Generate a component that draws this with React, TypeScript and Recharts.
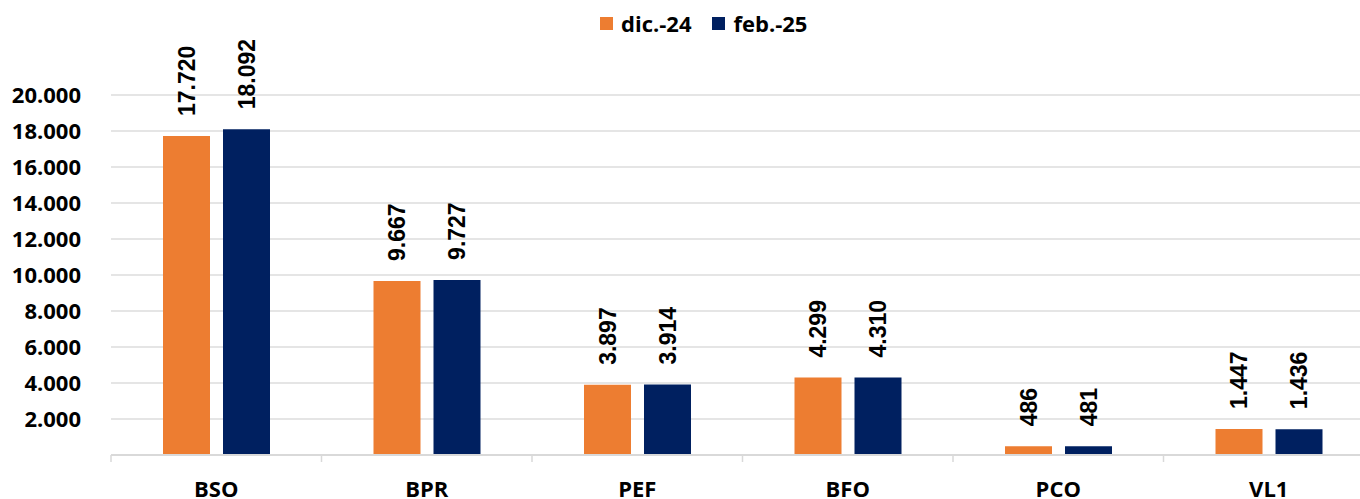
import { BarChart, Bar, XAxis, YAxis, CartesianGrid, LabelList } from "recharts";

const categories = ["BSO", "BPR", "PEF", "BFO", "PCO", "VL1"];
const dic24 = [17720, 9667, 3897, 4299, 486, 1447];
const feb25 = [18092, 9727, 3914, 4310, 481, 1436];
const yTicks = [2000, 4000, 6000, 8000, 10000, 12000, 14000, 16000, 18000, 20000];

const ORANGE = "#ED7D31";
const NAVY = "#002060";
const AXIS = "#d9d9d9";
const FONT = "'Open Sans', 'Noto Sans', sans-serif";
const TICK_SIZE = 8;
const TICK_MARGIN = 18;

const data = categories.map((name, i) => ({ name, dic: dic24[i], feb: feb25[i] }));

// separador de miles con punto
const fmt = (v: number) => String(v).replace(/\B(?=(\d{3})+(?!\d))/g, ".");

const renderLabel = (props: any) => {
  const { x, y, width, value } = props;
  const cx = Number(x) + Number(width) / 2;
  const cy = Number(y) - 20;
  return (
    <text
      x={cx}
      y={cy}
      transform={`rotate(-90, ${cx}, ${cy})`}
      dy="0.36em"
      textAnchor="start"
      fill="#000"
      fontFamily="'Liberation Sans', Arial, sans-serif"
      fontWeight={700}
      fontSize={23}
    >
      {fmt(value)}
    </text>
  );
};

// etiqueta de categoría + marcas en los bordes de cada categoría
const CategoryTick = (props: any) => {
  const { x, y, payload, index } = props;
  const half = payload?.offset ?? 0;
  const axisY = y - TICK_SIZE - TICK_MARGIN;
  const left = x - half;
  const right = x + half;
  return (
    <g>
      <line x1={left} x2={left} y1={axisY} y2={axisY + 7} stroke={AXIS} strokeWidth={1.5} />
      {index === categories.length - 1 && (
        <line x1={right} x2={right} y1={axisY} y2={axisY + 7} stroke={AXIS} strokeWidth={1.5} />
      )}
      <text
        x={x}
        y={y}
        dy="0.71em"
        textAnchor="middle"
        fill="#000"
        fontFamily={FONT}
        fontWeight={700}
        fontSize={22}
      >
        {payload.value}
      </text>
    </g>
  );
};

const legendItems = [
  { label: "dic.-24", color: ORANGE },
  { label: "feb.-25", color: NAVY },
];

export default function App() {
  return (
    <div
      style={{
        position: "absolute",
        left: 0,
        top: 0,
        width: 1360,
        height: 499,
        overflow: "hidden",
        background: "#fff",
      }}
    >
      <div
        style={{
          position: "absolute",
          left: 600,
          top: 8,
          display: "flex",
          alignItems: "center",
          fontFamily: FONT,
          fontWeight: 700,
          fontSize: 22,
          color: "#000",
          zIndex: 2,
        }}
      >
        {legendItems.map((it, i) => (
          <div key={it.label} style={{ display: "flex", alignItems: "center", marginRight: i === 0 ? 21 : 0 }}>
            <span style={{ width: 13, height: 13, background: it.color, display: "inline-block", marginRight: 8 }} />
            <span>{it.label}</span>
          </div>
        ))}
      </div>
      <BarChart
        width={1374}
        height={499}
        data={data}
        margin={{ top: 95, right: 0, left: 0, bottom: 0 }}
        barSize={47}
        barGap={13}
      >
        <CartesianGrid vertical={false} stroke="#dcdcdc" strokeWidth={1.5} />
        <XAxis
          dataKey="name"
          height={44}
          axisLine={{ stroke: AXIS, strokeWidth: 2 }}
          tickLine={false}
          tickSize={TICK_SIZE}
          tickMargin={TICK_MARGIN}
          tick={<CategoryTick />}
        />
        <YAxis
          width={111}
          domain={[0, 20000]}
          ticks={yTicks}
          axisLine={false}
          tickLine={false}
          tickMargin={24}
          tickFormatter={fmt}
          tick={{ fill: "#000", fontFamily: FONT, fontWeight: 700, fontSize: 22 }}
        />
        <Bar dataKey="dic" name="dic.-24" fill={ORANGE} isAnimationActive={false}>
          <LabelList dataKey="dic" content={renderLabel} />
        </Bar>
        <Bar dataKey="feb" name="feb.-25" fill={NAVY} isAnimationActive={false}>
          <LabelList dataKey="feb" content={renderLabel} />
        </Bar>
      </BarChart>
    </div>
  );
}
